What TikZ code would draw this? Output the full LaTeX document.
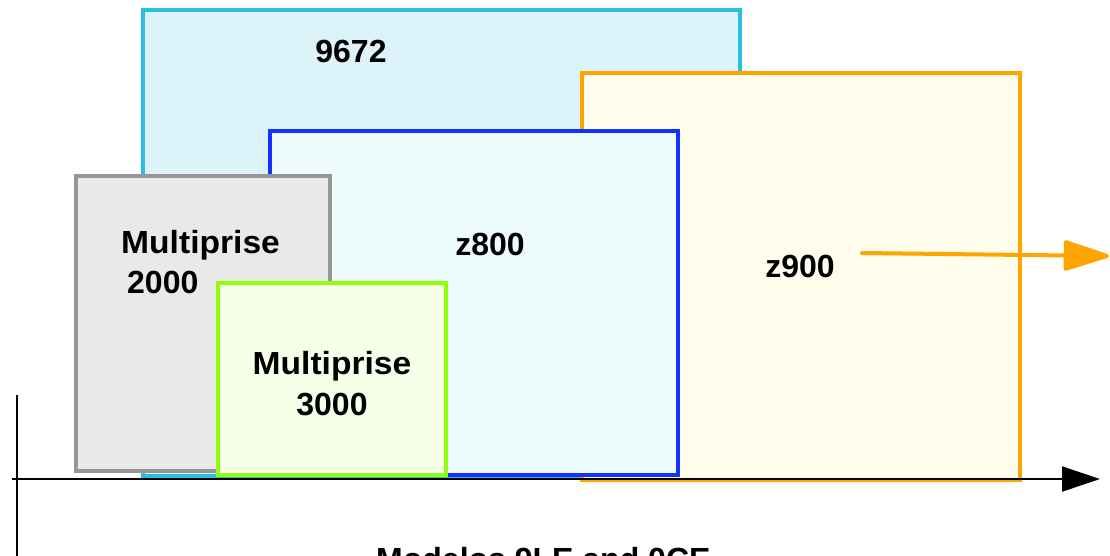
\documentclass[tikz,border=0pt]{standalone}
\usepackage{fontspec}
\setmainfont{Liberation Sans}
\usetikzlibrary{arrows.meta}
\definecolor{cyanline}{RGB}{44,190,224}
\definecolor{cyanfill}{RGB}{220,243,249}
\definecolor{blueline}{RGB}{20,50,255}
\definecolor{bluefill}{RGB}{238,251,252}
\definecolor{orangeline}{RGB}{255,165,0}
\definecolor{orangefill}{RGB}{255,253,236}
\definecolor{grayline}{RGB}{150,150,150}
\definecolor{grayfill}{RGB}{233,233,233}
\definecolor{greenline}{RGB}{145,255,10}
\definecolor{greenfill}{RGB}{246,255,232}
\tikzset{
  boxframe/.style={line width=3.8pt, line join=miter},
  lbl/.style={inner sep=0pt, anchor=base, font=\fontsize{32}{38}\selectfont\bfseries},
  lblw/.style={lbl, anchor=base west},
  axis/.style={line width=2pt, black},
}
\begin{document}
\begin{tikzpicture}[x=1pt,y=-1pt]
\useasboundingbox (0,0) rectangle (1110,555);

% product families, back to front
\draw[boxframe, draw=cyanline, fill=cyanfill] (143,10) rectangle (740,476);
\draw[boxframe, draw=orangeline, fill=orangefill] (582,73) rectangle (1020,480);
\draw[boxframe, draw=blueline, fill=bluefill] (270,131) rectangle (678,475);
\draw[boxframe, draw=grayline, fill=grayfill] (76,176) rectangle (330,471);
\draw[boxframe, draw=greenline, fill=greenfill] (218,283) rectangle (446,475);

% labels
\node[lbl] (n9672) at (351,62) {9672};
\node[lbl] (nz800) at (490,255) {z800};
\node[lbl] (nz900) at (800,277) {z900};
\node[lblw, xscale=1.05] (mpa) at (121,253) {Multiprise};
\node[lblw] (mpb) at (127,293) {2000};
\node[lbl, xscale=1.05] (mpc) at (332,374) {Multiprise};
\node[lbl] (mpd) at (332,415) {3000};

% growth arrow out of z900
\coordinate (grS) at (862,253);
\coordinate (grE) at (1109,256);
\draw[line width=4pt, orangeline, line cap=round, line join=round,
      -{Triangle[length=50pt,width=31pt,round]}] (grS) -- (grE);

% axes
\coordinate (xa0) at (12,479);
\coordinate (xa1) at (1100,479);
\coordinate (ya0) at (17,395);
\coordinate (ya1) at (17,560);
\draw[axis, -{Triangle[length=38pt,width=25pt]}] (xa0) -- (xa1);
\draw[axis] (ya0) -- (ya1);

\node[lblw] (xlabel) at (376,570) {Modelos 9LE and 0CE};
\end{tikzpicture}
\end{document}
